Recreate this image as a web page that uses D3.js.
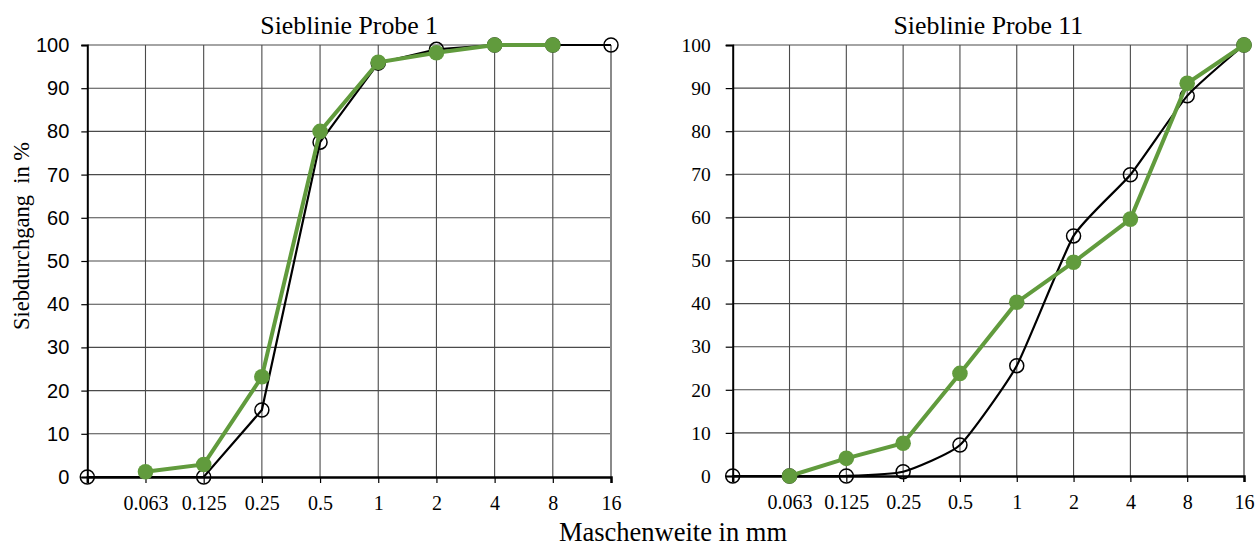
<!DOCTYPE html>
<html>
<head>
<meta charset="utf-8">
<script src="https://cdn.jsdelivr.net/npm/d3@7"></script>
<style>
  html, body { margin: 0; padding: 0; background: #fff; }
  svg { display: block; }
</style>
</head>
<body>
<svg id="chart" width="1255" height="547"></svg>
<script>
// Sieve sizes (mm); the first slot is the pan (no label)
const sieveKeys = ["pan", "0.063", "0.125", "0.25", "0.5", "1", "2", "4", "8", "16"];
const sieveLabels = ["", "0.063", "0.125", "0.25", "0.5", "1", "2", "4", "8", "16"];
const yTicks = [0, 10, 20, 30, 40, 50, 60, 70, 80, 90, 100];

// Passing percentage, sample 1
const probe1Ref = [0, null, 0, 15.5, 77.5, 95.8, 99, 100, 100, 100];
const probe1Mix = [null, 1.2, 2.9, 23.2, 80, 96, 98.2, 100, 100, null];

// Passing percentage, sample 11
const probe11Ref = [0, 0, 0, 1.0, 7.2, 25.6, 55.7, 69.9, 88.2, 100];
const probe11Mix = [null, 0, 4.1, 7.6, 23.8, 40.3, 49.6, 59.6, 91.1, 100];

const GREEN = "#619b3d";
const svg = d3.select("#chart");

function drawPanel(opt) {
  const x = d3.scalePoint().domain(sieveKeys).range([opt.left, opt.right]).padding(0);
  const y = d3.scaleLinear().domain([0, 100]).range([opt.bottom, opt.top]);
  const g = svg.append("g");

  // grid
  g.append("g").selectAll("line.h").data(yTicks.filter(d => d > 0)).join("line")
    .attr("x1", opt.left).attr("x2", opt.right)
    .attr("y1", d => y(d)).attr("y2", d => y(d))
    .attr("stroke", "#4a4a4a").attr("stroke-width", 1.1);
  g.append("g").selectAll("line.v").data(sieveKeys.slice(1)).join("line")
    .attr("x1", d => x(d)).attr("x2", d => x(d))
    .attr("y1", opt.top).attr("y2", opt.bottom)
    .attr("stroke", (d, i) => i === sieveKeys.length - 2 ? "#8a8a8a" : "#4a4a4a")
    .attr("stroke-width", (d, i) => i === sieveKeys.length - 2 ? 2 : 1.1);

  // y axis
  const yAxis = d3.axisLeft(y).tickValues(yTicks).tickSize(opt.yTickLen).tickPadding(opt.yPad);
  const ya = g.append("g").attr("transform", `translate(${opt.left},0)`).call(yAxis);
  ya.select(".domain").attr("stroke", "#000").attr("stroke-width", 2);
  ya.selectAll(".tick line").attr("stroke", "#000").attr("stroke-width", 1.2);
  ya.selectAll(".tick text")
    .attr("font-family", opt.yFont).attr("font-size", opt.yFontSize).attr("fill", "#000");

  // x axis
  const xAxis = d3.axisBottom(x).tickSize(6).tickPadding(13)
    .tickFormat((d, i) => sieveLabels[i]);
  const xa = g.append("g").attr("transform", `translate(0,${opt.bottom})`).call(xAxis);
  xa.select(".domain").attr("stroke", "#000").attr("stroke-width", 2.5);
  xa.selectAll(".tick line").attr("stroke", "#000").attr("stroke-width", 1.2);
  xa.selectAll(".tick text")
    .attr("font-family", "'Liberation Serif', serif").attr("font-size", 20).attr("fill", "#000");

  // title
  g.append("text").attr("x", (opt.left + opt.right) / 2).attr("y", 34)
    .attr("text-anchor", "middle").attr("font-family", "'Liberation Serif', serif")
    .attr("font-size", 25.8).attr("fill", "#000").text(opt.title);

  const pts = arr => sieveKeys.map((k, i) => ({ k, v: arr[i] })).filter(p => p.v !== null);

  // reference curve (black, open circles)
  const refPts = pts(opt.ref);
  g.append("path").datum(refPts)
    .attr("d", d3.line().x(p => x(p.k)).y(p => y(p.v)).curve(opt.refCurve))
    .attr("fill", "none").attr("stroke", "#000").attr("stroke-width", 2.2);
  g.append("g").selectAll("circle").data(refPts).join("circle")
    .attr("cx", p => x(p.k)).attr("cy", p => y(p.v)).attr("r", 7)
    .attr("fill", "none").attr("stroke", "#000").attr("stroke-width", 1.5);

  // sample curve (green, filled circles)
  const mixPts = pts(opt.mix);
  g.append("path").datum(mixPts)
    .attr("d", d3.line().x(p => x(p.k)).y(p => y(p.v)))
    .attr("fill", "none").attr("stroke", GREEN).attr("stroke-width", 4);
  g.append("g").selectAll("circle").data(mixPts).join("circle")
    .attr("cx", p => x(p.k)).attr("cy", p => y(p.v)).attr("r", 7.8)
    .attr("fill", GREEN);
}

drawPanel({
  title: "Sieblinie Probe 1",
  left: 87.3, right: 611, top: 45, bottom: 477,
  ref: probe1Ref, mix: probe1Mix, refCurve: d3.curveLinear,
  yFont: "'Liberation Sans', Arial, sans-serif", yFontSize: 20, yTickLen: 6, yPad: 12
});

drawPanel({
  title: "Sieblinie Probe 11",
  left: 732.7, right: 1244, top: 45, bottom: 476,
  ref: probe11Ref, mix: probe11Mix, refCurve: d3.curveCardinal.tension(0.5),
  yFont: "'Liberation Serif', serif", yFontSize: 19.5, yTickLen: 7, yPad: 15
});

// axis titles
svg.append("text")
  .attr("transform", "translate(29,236) rotate(-90)")
  .attr("text-anchor", "middle").attr("font-family", "'Liberation Serif', serif")
  .attr("font-size", 22.5).attr("fill", "#000")
  .attr("xml:space", "preserve").text("Siebdurchgang  in %");

svg.append("text")
  .attr("x", 673).attr("y", 541)
  .attr("text-anchor", "middle").attr("font-family", "'Liberation Serif', serif")
  .attr("font-size", 26.5).attr("fill", "#000").text("Maschenweite in mm");
</script>
</body>
</html>
